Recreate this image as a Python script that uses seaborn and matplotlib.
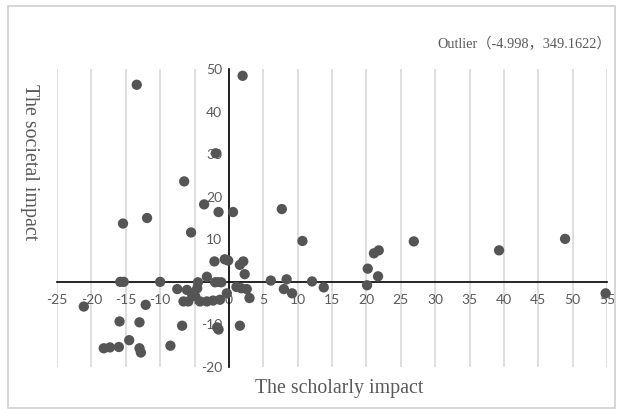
import matplotlib
matplotlib.use("Agg")
import matplotlib.pyplot as plt
import seaborn as sns
import pandas as pd
from matplotlib.patches import Rectangle

# scholarly impact (x) and societal impact (y)
scholarly = [
    -13.4, 2.0, -1.9, -6.5, -3.6, -1.5, 0.6, 7.7, -15.4, -11.9, -5.5, 10.7,
    26.9, 48.9, 39.3, 21.1, 21.8, 20.2, 21.7, 12.1, 13.8, 20.1, 54.8,
    -2.1, -0.6, -0.1, 1.6, 2.1, 2.3, -3.2, -4.5, -2.0, -1.1, 6.1, 8.4, 8.0,
    9.2, 1.1, 1.8, 2.6, 3.0, -0.3, -7.5, -6.1, -5.4, -4.6, -4.9, -6.6, -5.9,
    -4.2, -3.2, -2.3, -1.3,
    -21.1, -15.8, -15.3, -10.0, -12.1, -15.9, -13.0, -6.8, -1.7, -1.5, 1.6,
    -14.5, -18.2, -17.3, -16.0, -13.0, -12.8, -8.5,
]
societal = [
    46.3, 48.4, 30.2, 23.6, 18.2, 16.4, 16.4, 17.1, 13.7, 15.0, 11.6, 9.6,
    9.5, 10.1, 7.4, 6.7, 7.4, 3.1, 1.3, 0.1, -1.3, -0.8, -2.7,
    4.8, 5.3, 5.0, 4.0, 4.8, 1.8, 1.2, -0.1, -0.1, -0.1, 0.3, 0.6, -1.7,
    -2.7, -1.2, -1.5, -1.7, -3.8, -2.7, -1.7, -1.9, -2.7, -1.5, -3.4, -4.6, -4.6,
    -4.6, -4.6, -4.4, -4.2,
    -5.8, 0.0, 0.0, 0.0, -5.4, -9.3, -9.5, -10.3, -10.7, -11.2, -10.3,
    -13.7, -15.6, -15.4, -15.3, -15.6, -16.6, -15.0,
]
x_ticks = list(range(-25, 60, 5))
y_ticks = list(range(-20, 60, 10))
outlier_note = "Outlier（-4.998，349.1622）"

df = pd.DataFrame({"scholarly": scholarly, "societal": societal})

sns.set_style("white")
plt.rcParams["font.family"] = ["Lato", "DejaVu Sans"]
plt.rcParams["axes.unicode_minus"] = False

W, H = 619, 409
fig = plt.figure(figsize=(W / 100, H / 100), dpi=100)
ax = fig.add_axes([57 / W, (H - 367) / H, 550 / W, 298 / H])

sns.scatterplot(data=df, x="scholarly", y="societal", ax=ax, s=55,
                color="#555555", edgecolor="none", clip_on=False, zorder=3)

ax.set_xlim(-25, 55)
ax.set_ylim(-20, 50)
ax.set_xticks(x_ticks)
ax.set_yticks(y_ticks)
ax.grid(axis="x", color="#d9d9d9", lw=1.2)
ax.grid(axis="y", visible=False)
ax.set_axisbelow(True)

for side in ["top", "right"]:
    ax.spines[side].set_visible(False)
for side in ["left", "bottom"]:
    ax.spines[side].set_position(("data", 0))
    ax.spines[side].set_color("black")
    ax.spines[side].set_linewidth(1.2)
    ax.spines[side].set_zorder(2)

ax.tick_params(axis="x", length=0, pad=9, labelsize=10, labelcolor="#595959")
ax.tick_params(axis="y", length=0, pad=5, labelsize=10, labelcolor="#595959")
ax.set_xlabel("")
ax.set_ylabel("")

serif = ["Liberation Serif", "Noto Sans CJK SC"]
fig.text(339 / W, 1 - 388 / H, "The scholarly impact", ha="center", va="center",
         fontsize=14.3, color="#595959", family=serif)
fig.text(29 / W, 1 - 162 / H, "The societal impact", ha="center", va="center",
         rotation=270, fontsize=14.3, color="#595959", family=serif)
fig.text(437 / W, 1 - 44 / H, outlier_note, ha="left", va="center",
         fontsize=10.3, color="#595959", family=serif)

fig.patches.append(Rectangle((8 / W, 0.002), 1 - 12 / W, 1 - 7 / H,
                             transform=fig.transFigure, fill=False,
                             edgecolor="#d0d0d0", lw=1.2))

fig.savefig("out.png", dpi=100)
